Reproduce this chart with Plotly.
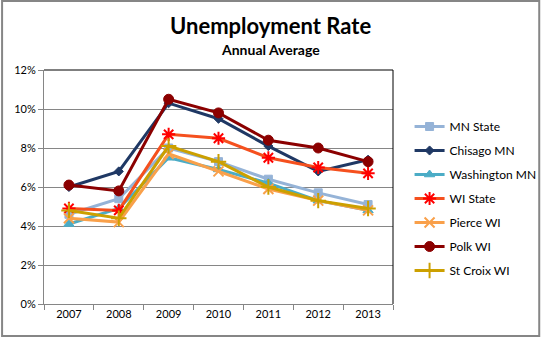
import plotly.graph_objects as go

years = ["2007", "2008", "2009", "2010", "2011", "2012", "2013"]
mn_state = [4.6, 5.4, 8.0, 7.3, 6.4, 5.7, 5.1]
chisago_mn = [6.0, 6.8, 10.3, 9.5, 8.1, 6.8, 7.4]
washington_mn = [4.1, 4.9, 7.5, 6.9, 6.2, 5.3, 4.8]
wi_state = [4.9, 4.8, 8.7, 8.5, 7.5, 7.0, 6.7]
pierce_wi = [4.4, 4.2, 7.7, 6.8, 5.9, 5.3, 4.8]
polk_wi = [6.1, 5.8, 10.5, 9.8, 8.4, 8.0, 7.3]
st_croix_wi = [4.8, 4.4, 8.1, 7.3, 6.0, 5.3, 4.9]
y_ticks = [0, 2, 4, 6, 8, 10, 12]

FONT = "Lato"
# plot-area pixel geometry
L, R, T, B = 44, 402, 70, 304
W, H = 554, 340

series = [
    ("MN State", mn_state, "#95B3D7", "#95B3D7", "square", 8, 1),
    ("Chisago MN", chisago_mn, "#1F3864", "#1F3864", "diamond", 7, 1),
    ("Washington MN", washington_mn, "#4BACC6", "#4BACC6", "triangle-up", 9, 1),
    ("WI State", wi_state, "#F5501E", "#FF0000", "asterisk-open", 11, 2),
    ("Pierce WI", pierce_wi, "#F9A04A", "#F9A04A", "x-thin-open", 10, 2),
    ("Polk WI", polk_wi, "#8B0000", "#8B0000", "circle", 10, 1),
    ("St Croix WI", st_croix_wi, "#CCA000", "#CCA000", "cross-thin-open", 11, 2),
]

fig = go.Figure()
for i, (name, vals, lc, mc, sym, sz, mlw) in enumerate(series):
    fig.add_trace(go.Scatter(
        x=years, y=vals, name=name, mode="lines+markers",
        legendgroup=f"g{i}",
        line=dict(color=lc, width=3),
        marker=dict(symbol=sym, size=sz, color=mc,
                    line=dict(color=mc, width=mlw)),
    ))

def px(xp):
    return (xp - L) / (R - L)

def py(yp):
    return (B - yp) / (B - T)

shapes = [
    # outer chart border
    dict(type="rect", xref="paper", yref="paper",
         x0=px(1), x1=px(552), y0=py(336), y1=py(1),
         line=dict(color="#868686", width=2), layer="below"),
    # plot-area top and right border (black)
    dict(type="line", xref="paper", yref="paper",
         x0=0, x1=1, y0=1, y1=1, line=dict(color="#000000", width=1)),
    dict(type="line", xref="paper", yref="paper",
         x0=1, x1=1, y0=0, y1=1, line=dict(color="#000000", width=1)),
]

annotations = [
    dict(text="<b>Unemployment Rate</b>", xref="paper", yref="paper",
         x=px(276), y=py(25), xanchor="center", yanchor="middle",
         showarrow=False, font=dict(family=FONT, size=22, color="#000000")),
    dict(text="<b>Annual Average</b>", xref="paper", yref="paper",
         x=px(276), y=py(49), xanchor="center", yanchor="middle",
         showarrow=False, font=dict(family=FONT, size=14, color="#000000")),
]

fig.update_layout(
    width=W, height=H,
    margin=dict(l=L, r=W - R, t=T, b=H - B, pad=0),
    paper_bgcolor="white", plot_bgcolor="white",
    font=dict(family=FONT, size=12, color="#000000"),
    showlegend=True,
    legend=dict(x=px(419), y=py(112), xanchor="left", yanchor="top",
                xref="paper", yref="paper",
                font=dict(family=FONT, size=12, color="#000000"),
                tracegroupgap=5, itemwidth=30,
                bgcolor="rgba(0,0,0,0)", borderwidth=0),
    shapes=shapes,
    annotations=annotations,
    xaxis=dict(
        type="category", range=[-0.5, 6.5],
        showline=True, linecolor="#868686", linewidth=1,
        showgrid=False, ticks="outside", tickson="boundaries",
        ticklen=5, tickcolor="#868686", tickwidth=1,
        tickfont=dict(family=FONT, size=11, color="#000000"),
        zeroline=False, fixedrange=True,
    ),
    yaxis=dict(
        range=[0, 12], tickvals=y_ticks,
        ticktext=[f"{v}%" for v in y_ticks],
        showline=True, linecolor="#868686", linewidth=1,
        showgrid=True, gridcolor="#868686", gridwidth=1,
        ticks="outside", ticklen=5, tickcolor="#868686",
        tickfont=dict(family=FONT, size=11, color="#000000"),
        zeroline=False, fixedrange=True,
    ),
)

fig.write_html("out.html")
